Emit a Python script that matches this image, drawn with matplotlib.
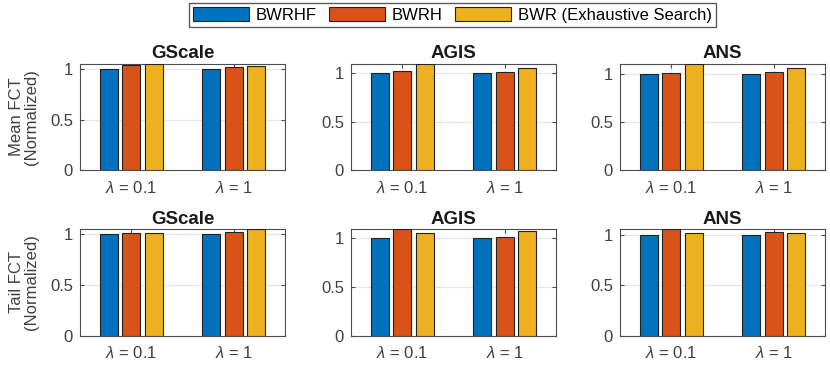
import matplotlib
matplotlib.use('Agg')
import matplotlib.pyplot as plt
from matplotlib.patches import Patch
import numpy as np

plt.rcParams['font.family'] = ['Liberation Sans', 'DejaVu Sans']
plt.rcParams['mathtext.fontset'] = 'custom'
plt.rcParams['mathtext.it'] = 'Liberation Sans:italic'
plt.rcParams['mathtext.rm'] = 'Liberation Sans'

topologies = ['GScale', 'AGIS', 'ANS']
methods = ['BWRHF', 'BWRH', 'BWR (Exhaustive Search)']
x_labels = [r'$\lambda$ = 0.1', r'$\lambda$ = 1']
row_labels = ['Mean FCT\n(Normalized)', 'Tail FCT\n(Normalized)']

# values[method] -> [lambda=0.1, lambda=1]
mean_gscale = {'BWRHF': [1.0, 1.0], 'BWRH': [1.046, 1.02], 'BWR (Exhaustive Search)': [1.056, 1.036]}
mean_agis = {'BWRHF': [1.0, 1.0], 'BWRH': [1.02, 1.01], 'BWR (Exhaustive Search)': [1.10, 1.055]}
mean_ans = {'BWRHF': [1.0, 1.0], 'BWRH': [1.01, 1.024], 'BWR (Exhaustive Search)': [1.108, 1.063]}
tail_gscale = {'BWRHF': [1.0, 1.0], 'BWRH': [1.003, 1.013], 'BWR (Exhaustive Search)': [1.003, 1.043]}
tail_agis = {'BWRHF': [1.0, 1.0], 'BWRH': [1.085, 1.007], 'BWR (Exhaustive Search)': [1.044, 1.065]}
tail_ans = {'BWRHF': [1.0, 1.0], 'BWRH': [1.053, 1.03], 'BWR (Exhaustive Search)': [1.017, 1.017]}

data = [[mean_gscale, mean_agis, mean_ans],
        [tail_gscale, tail_agis, tail_ans]]

colors = ['#0072BD', '#D95319', '#EDB120']
axis_color = '#4d4d4d'

fig = plt.figure(figsize=(8.3, 3.66), dpi=100)

lefts = [0.0964, 0.4229, 0.747]
bottoms = [0.5355, 0.0828]
width = 0.247
height = 0.291

x = np.arange(1, len(x_labels) + 1)
offsets = [-0.22, 0.0, 0.22]

for r in range(2):
    for c in range(3):
        ax = fig.add_axes([lefts[c], bottoms[r], width, height])
        vals = data[r][c]
        top = 0
        for k, m in enumerate(methods):
            ax.bar(x + offsets[k], vals[m], width=0.178, color=colors[k],
                   edgecolor='#222222', linewidth=0.8, zorder=3)
            top = max(top, max(vals[m]))
        ax.set_xlim(0.5, 2.5)
        ax.set_ylim(0, top)
        ax.set_yticks([0, 0.5, 1])
        ax.set_yticklabels(['0', '0.5', '1'])
        ax.set_xticks(x)
        ax.set_xticklabels(x_labels)
        ax.grid(True, color='#e6e6e6', linewidth=0.8, zorder=0)
        ax.tick_params(direction='in', length=3, colors=axis_color,
                       labelsize=12, labelcolor='#404040', top=True, right=True,
                       pad=5)
        ax.tick_params(axis='x', pad=7)
        for s in ax.spines.values():
            s.set_color(axis_color)
            s.set_linewidth(0.8)
        ax.set_title(topologies[c], fontsize=13.5, fontweight='bold',
                     color='#1a1a1a', pad=4)
        if c == 0:
            ax.set_ylabel(row_labels[r], fontsize=12, color='#404040',
                          labelpad=8, linespacing=1.0)

handles = [Patch(facecolor=colors[k], edgecolor='#222222', linewidth=0.8)
           for k in range(3)]
fig.legend(handles, methods, loc='upper center', bbox_to_anchor=(0.545, 1.0),
           ncol=3, fontsize=12, frameon=True, fancybox=False,
           edgecolor='#333333', handlelength=3.4, handleheight=0.9,
           columnspacing=0.7, handletextpad=0.4, borderpad=0.25,
           borderaxespad=0.2)

fig.savefig('out.png', dpi=100)
